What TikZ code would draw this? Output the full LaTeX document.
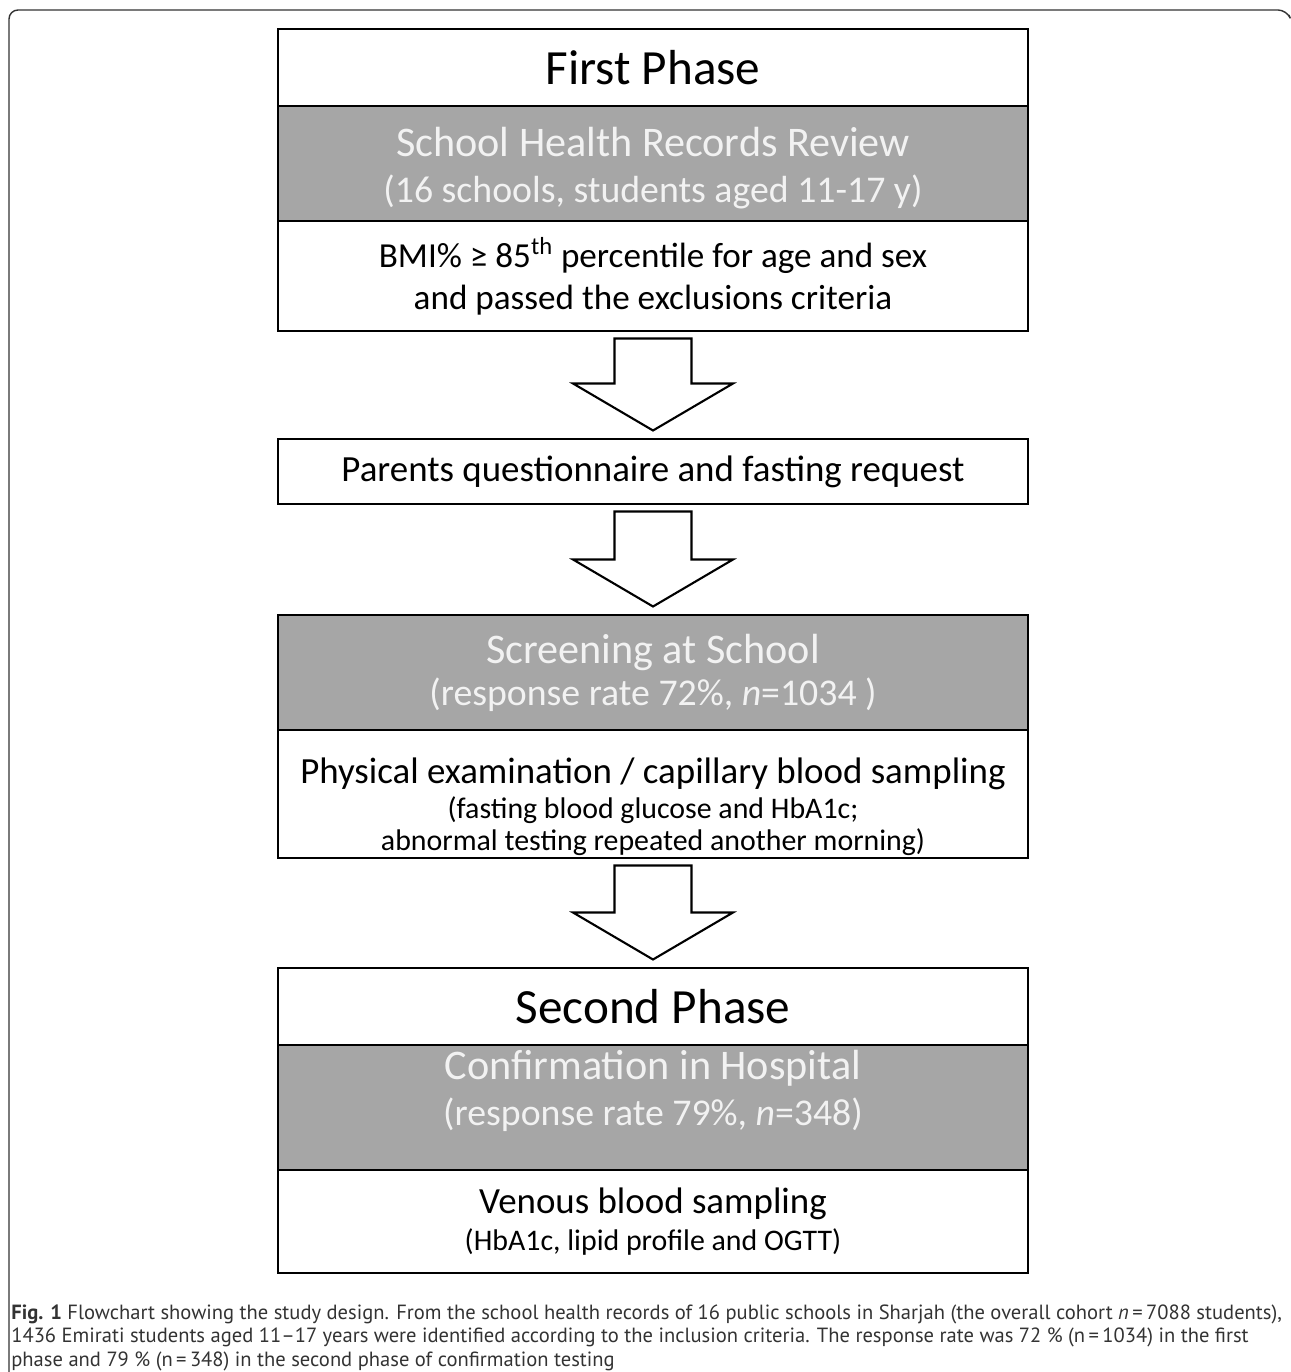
\documentclass[tikz,border=0pt]{standalone}
\usepackage{fontspec}
\setmainfont{Carlito}
\newfontfamily\capfont{PT Sans}
\usetikzlibrary{positioning,calc}
\definecolor{boxgrey}{HTML}{A6A6A6}
\definecolor{greytext}{HTML}{F2F2F2}
\definecolor{captext}{HTML}{333333}
\newcommand{\sm}{\fontsize{17}{18}\selectfont}
\newcommand{\sub}{\fontsize{21.5}{25}\selectfont}

\begin{document}
\begin{tikzpicture}[x=0.2mm,y=-0.2mm,line join=miter]
	\tikzstyle{phase}=[draw=black,line width=1.6pt,minimum width=15cm,inner sep=0pt,outer sep=0pt,fill=white,align=center];
	\tikzstyle{head}=[phase,minimum height=1.54cm,font=\fontsize{28}{30}\selectfont];
	\tikzstyle{grey}=[phase,fill=boxgrey,text=greytext,font=\fontsize{24}{25}\selectfont];
	\tikzstyle{body}=[phase,font=\fontsize{21}{21}\selectfont];
	\tikzstyle{fat}=[draw=black,line width=1.2pt,fill=white];

	\useasboundingbox (0,0) rectangle (1290,1372);
	% outer frame
	\draw[line width=0.8pt,black!80,rounded corners=0.18cm] (1289,15) -- (1287,10) -- (9,10) -- (9,1372);

	% first phase
	\node[head,anchor=north] (first) at (653,29) {First Phase};
	\node[grey,minimum height=2.3cm,below=0pt of first] (records) {\rule{0pt}{22pt}School Health Records Review\\[1pt]{\sub (16 schools, students aged 11-17 y)}};
	\node[body,minimum height=2.2cm,below=0pt of records,font=\fontsize{20}{21}\selectfont] (bmi) {BMI\% ≥ 85\textsuperscript{th} percentile for age and sex\\[3pt]and passed the exclusions criteria};
	\node[body,minimum height=1.3cm,anchor=north] (parents) at (653,439) {Parents questionnaire and fasting request};
	\node[grey,minimum height=2.3cm,anchor=north] (screen) at (653,615) {Screening at School\\[-1pt]{\sub (response rate 72\%, \textit{n}=1034 )}};
	\node[body,minimum height=2.56cm,below=0pt of screen] (exam) {\rule{0pt}{29pt}Physical examination / capillary blood sampling\\[-1pt]{\sm (fasting blood glucose and HbA1c;}\\[-3pt]{\sm abnormal testing repeated another morning)}};

	% second phase
	\node[head,anchor=north] (second) at (653,968) {Second Phase};
	\node[grey,minimum height=2.5cm,below=0pt of second] (hosp) {Confirmation in Hospital\\[1pt]{\sub (response rate 79\%, \textit{n}=348)\rule[-22pt]{0pt}{1pt}}};
	\node[body,minimum height=2.06cm,below=0pt of hosp] (venous) {Venous blood sampling\\[0pt]{\sm (HbA1c, lipid profile and OGTT)}};

	\foreach \a/\b in {bmi/parents,parents/screen,exam/second}
		\draw[fat] let \p1=(\a.south), \p2=(\b.north) in
			(\x1-0.77cm,\y1-0.15cm) -- (\x1+0.77cm,\y1-0.15cm) -- (\x1+0.77cm,\y2+1.11cm)
			-- (\x1+1.6cm,\y2+1.11cm) -- (\x1,\y2+0.17cm) -- (\x1-1.6cm,\y2+1.11cm)
			-- (\x1-0.77cm,\y2+1.11cm) -- cycle;

	\node[anchor=north west,align=left,inner sep=0pt,text=captext,font=\capfont\fontsize{11.7}{13.4}\selectfont] (caption) at (11,1304)
		{\textbf{Fig. 1} Flowchart showing the study design. From the school health records of 16 public schools in Sharjah (the overall cohort \textit{n}\,=\,7088 students),\\
		1436 Emirati students aged 11–17 years were identified according to the inclusion criteria. The response rate was 72 \% (n\,=\,1034) in the first\\
		phase and 79 \% (n\,=\,348) in the second phase of confirmation testing};
\end{tikzpicture}
\end{document}
